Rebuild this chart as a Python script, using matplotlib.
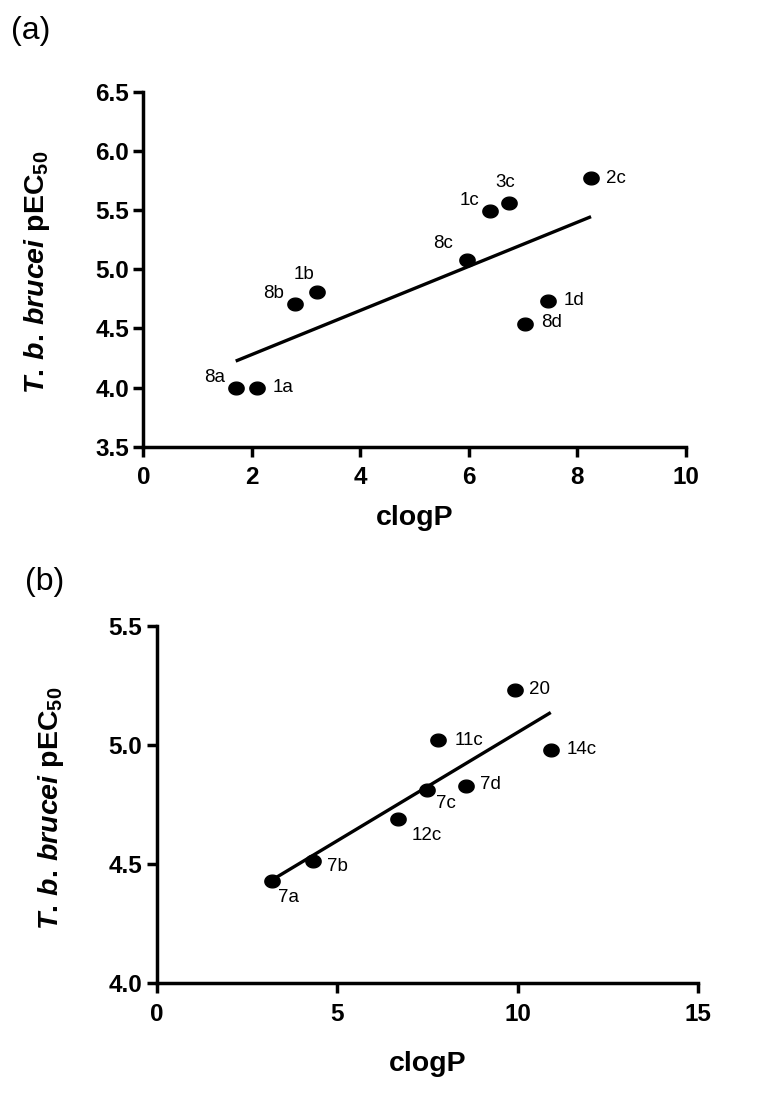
"""
clogP vs T. b. brucei pEC50, two panels.
"""

import matplotlib
matplotlib.use("Agg")
import matplotlib.pyplot as plt
import numpy as np
from matplotlib.path import Path

plt.rcParams["font.family"] = ["Liberation Sans", "DejaVu Sans"]
plt.rcParams["mathtext.fontset"] = "custom"
plt.rcParams["mathtext.rm"] = "Liberation Sans:bold"
plt.rcParams["mathtext.bf"] = "Liberation Sans:bold"
plt.rcParams["mathtext.it"] = "Liberation Sans:italic:bold"

# panel (a)
a_names = ["8a", "1a", "8b", "1b", "8c", "1c", "3c", "2c", "1d", "8d"]
a_clogp = [1.70, 2.10, 2.79, 3.20, 5.97, 6.39, 6.74, 8.25, 7.46, 7.04]
a_pec50 = [4.00, 4.00, 4.71, 4.81, 5.08, 5.49, 5.56, 5.77, 4.73, 4.54]

# panel (b)
b_names = ["7a", "7b", "12c", "7c", "11c", "7d", "20", "14c"]
b_clogp = [3.20, 4.33, 6.68, 7.49, 7.79, 8.56, 9.92, 10.92]
b_pec50 = [4.43, 4.515, 4.69, 4.81, 5.02, 4.83, 5.23, 4.98]

# label offsets in pixels (dx, dy)
a_offsets = [(-21, 10), (26, 0), (-21, 10), (-13, 17), (-24, 16),
             (-21, 11), (-4, 20), (25, 0), (26, 1), (26, 1)]
b_offsets = [(16, -17), (25, -6), (29, -16), (19, -13),
             (31, 0), (25, 1), (25, 1), (31, 0)]

YLABEL = r"$\mathit{T.\,b.\,brucei}$ pEC$_{50}$"

# the reference dots are slightly wider than tall
_t = np.linspace(0, 2 * np.pi, 60)
DOT = Path(np.column_stack([1.2 * np.cos(_t), np.sin(_t)]))


def draw_panel(ax, x, y, names, offsets, xlim, xticks, ylim, yticks,
               xlab_y, ylab_x):
    x = np.asarray(x)
    y = np.asarray(y)

    # least-squares line across the data range
    slope, intercept = np.polyfit(x, y, 1)
    xl = np.array([x.min(), x.max()])
    ax.plot(xl, slope * xl + intercept, color="black", linewidth=2.4,
            zorder=2, solid_capstyle="butt")

    ax.plot(x, y, linestyle="none", marker=DOT, color="black",
            markersize=11, zorder=3)

    for xi, yi, name, off in zip(x, y, names, offsets):
        ax.annotate(name, (xi, yi), xytext=off, textcoords="offset pixels",
                    ha="center", va="center", fontsize=13.5)

    ax.set_xlim(xlim)
    ax.set_ylim(ylim)
    ax.set_xticks(xticks)
    ax.set_yticks(yticks)
    ax.set_yticklabels([f"{t:.1f}" for t in yticks])

    for side in ["top", "right"]:
        ax.spines[side].set_visible(False)
    for side in ["left", "bottom"]:
        ax.spines[side].set_linewidth(2.5)

    ax.tick_params(direction="out", length=7.5, width=2.5, labelsize=17.5)
    ax.tick_params(axis="x", pad=6.5)
    ax.tick_params(axis="y", pad=3)
    for lab in ax.get_xticklabels() + ax.get_yticklabels():
        lab.set_fontweight("bold")

    ax.set_xlabel("clogP", fontsize=20.5, fontweight="bold")
    ax.xaxis.set_label_coords(0.5, xlab_y)
    ax.set_ylabel(YLABEL, fontsize=20.5, fontweight="bold")
    ax.yaxis.set_label_coords(ylab_x, 0.49)


fig = plt.figure(figsize=(7.76, 10.93), dpi=100)

ax_a = fig.add_axes([0.1849, 0.5913, 0.6991, 0.3248])
draw_panel(ax_a, a_clogp, a_pec50, a_names, a_offsets,
           (0, 10), [0, 2, 4, 6, 8, 10], (3.5, 6.5),
           [3.5, 4.0, 4.5, 5.0, 5.5, 6.0, 6.5], -0.165, -0.169)

ax_b = fig.add_axes([0.2018, 0.1002, 0.6977, 0.3271])
draw_panel(ax_b, b_clogp, b_pec50, b_names, b_offsets,
           (0, 15), [0, 5, 10, 15], (4.0, 5.5),
           [4.0, 4.5, 5.0, 5.5], -0.19, -0.167)

fig.text(0.014, 0.9716, "(a)", fontsize=23, va="center")
fig.text(0.032, 0.4675, "(b)", fontsize=23, va="center")

fig.savefig("out.png", dpi=100)
